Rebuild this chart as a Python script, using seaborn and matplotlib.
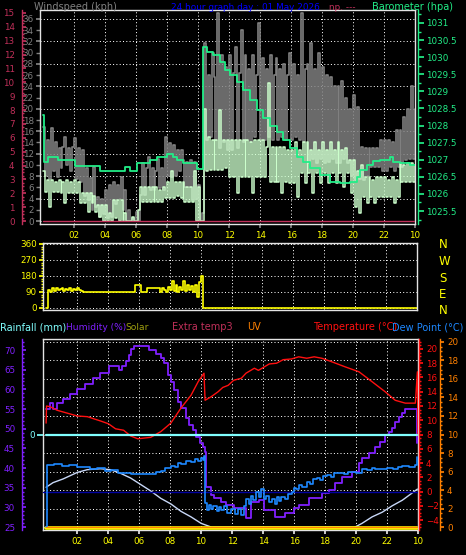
import numpy as np
import pandas as pd
import matplotlib
matplotlib.use("Agg")
import matplotlib.pyplot as plt
import seaborn as sns
from matplotlib.ticker import MultipleLocator, FixedLocator, FuncFormatter

# ---------------- data ----------------
hour_ticks = [2, 4, 6, 8, 10, 12, 14, 16, 18, 20, 22, 24]
hour_labels = ["02", "04", "06", "08", "10", "12", "14", "16", "18", "20", "22", "10"]

# wind samples every 7.5 minutes
wind_hours = np.arange(193) * 0.125
gust = [
    16.8, 8.0, 14.5, 7.5, 16.5, 9.0, 14.0, 7.8,      # 00
    13.0, 9.5, 13.2, 15.0, 10.0, 13.0, 9.0, 13.2,    # 01
    14.8, 7.5, 13.0, 7.0, 12.7, 4.5, 9.5, 3.7,       # 02
    7.7, 2.0, 9.6, 2.5, 4.3, 0.8, 4.0, 1.2,          # 03
    5.5, 0.5, 6.4, 0.8, 7.0, 3.0, 6.5, 4.0,          # 04
    7.8, 2.0, 5.5, 0.0, 2.0, 0.0, 0.5, 0.0,          # 05
    1.6, 0.0, 4.6, 10.3, 4.6, 9.4, 11.4, 5.5,        # 06
    9.4, 5.5, 9.0, 11.0, 5.8, 9.4, 5.5, 15.0,        # 07
    8.0, 13.9, 7.8, 13.5, 8.0, 12.6, 9.0, 12.6,      # 08
    10.9, 6.0, 10.5, 6.0, 10.9, 3.7, 10.5, 4.0,      # 09
    6.5, 0.0, 1.5, 31.7, 14.5, 26.0, 15.0, 30.0,     # 10
    25.7, 14.4, 37.0, 13.0, 29.6, 14.0, 27.5, 12.7,  # 11
    29.6, 12.7, 26.4, 31.0, 13.0, 26.4, 34.0, 14.0,  # 12
    29.6, 14.4, 27.0, 14.0, 29.6, 15.0, 26.0, 35.3,  # 13
    14.4, 29.0, 14.4, 27.0, 15.0, 29.6, 14.4, 26.0,  # 14
    29.0, 14.4, 27.0, 15.0, 28.0, 14.4, 26.0, 30.0,  # 15
    14.4, 28.0, 15.0, 26.0, 14.4, 37.0, 14.0, 27.0,  # 16
    28.0, 10.3, 31.7, 11.0, 27.0, 10.3, 30.0, 11.0,  # 17
    27.5, 10.3, 26.0, 10.5, 25.7, 11.0, 24.0, 10.3,  # 18
    24.0, 10.3, 25.0, 11.0, 22.0, 10.3, 20.0, 8.0,   # 19
    22.5, 7.3, 20.3, 7.5, 13.2, 7.3, 13.0, 8.0,      # 20
    13.0, 9.6, 13.0, 9.6, 13.0, 9.6, 14.4, 9.0,      # 21
    14.4, 9.0, 14.4, 9.6, 14.0, 9.0, 16.2, 9.6,      # 22
    16.2, 9.6, 18.5, 10.9, 20.0, 11.0, 24.0, 11.0,   # 23
    20.0,
]
avg_wind = [
    9.0, 5.2, 7.3, 2.5, 7.3, 5.2, 7.0, 5.2,          # 00
    7.3, 5.0, 7.0, 3.2, 7.3, 5.0, 7.0, 5.0,          # 01
    7.3, 5.0, 7.0, 3.2, 5.0, 3.2, 5.0, 1.6,          # 02
    5.0, 3.2, 4.5, 1.6, 2.9, 0.7, 2.9, 0.0,          # 03
    2.9, 0.0, 1.5, 0.0, 3.7, 0.5, 3.7, 0.0,          # 04
    3.7, 0.0, 1.5, 0.0, 0.0, 0.0, 0.8, 0.0,          # 05
    0.0, 2.0, 6.0, 3.4, 6.0, 3.4, 6.0, 3.4,          # 06
    6.0, 3.4, 6.0, 3.4, 5.5, 3.4, 6.0, 4.1,          # 07
    7.0, 4.1, 9.0, 4.1, 7.0, 4.5, 7.0, 4.1,          # 08
    7.0, 3.4, 6.0, 3.4, 6.0, 3.4, 9.0, 0.0,          # 09
    6.0, 0.0, 0.0, 20.0, 9.0, 15.0, 9.1, 14.4,       # 10
    9.1, 14.4, 9.1, 19.8, 9.1, 14.4, 9.5, 14.4,      # 11
    7.8, 14.4, 7.8, 14.4, 5.0, 14.4, 7.8, 14.4,      # 12
    7.8, 14.4, 7.8, 14.0, 5.0, 14.4, 7.8, 14.4,      # 13
    7.8, 14.4, 7.8, 13.2, 24.6, 7.0, 13.2, 7.0,      # 14
    13.2, 7.0, 13.2, 5.0, 13.2, 7.0, 12.7, 6.8,      # 15
    12.7, 6.8, 14.0, 4.3, 12.7, 8.5, 14.0, 6.8,      # 16
    14.0, 8.5, 12.7, 5.0, 14.0, 8.5, 12.7, 6.8,      # 17
    14.0, 8.5, 12.7, 6.8, 14.0, 8.5, 12.7, 6.8,      # 18
    14.0, 8.5, 12.7, 6.0, 13.0, 8.5, 10.9, 5.0,      # 19
    10.9, 2.5, 9.0, 1.4, 10.0, 4.3, 7.8, 3.2,        # 20
    7.8, 4.3, 7.3, 3.2, 7.8, 4.3, 7.8, 4.3,          # 21
    7.8, 4.3, 7.3, 4.3, 7.8, 3.2, 7.3, 4.3,          # 22
    10.3, 7.0, 10.0, 7.0, 10.3, 7.0, 10.3, 7.0,      # 23
    10.0,
]
wind_dir = [
    0, 100, 90, 110, 95, 115, 100, 105,              # 00
    110, 95, 105, 100, 115, 95, 105, 100,            # 01
    110, 100, 95, 90, 90, 90, 90, 90,                # 02
    90, 90, 90, 90, 90, 90, 90, 90,                  # 03
    90, 90, 90, 90, 90, 90, 90, 90,                  # 04
    90, 90, 90, 90, 90, 90, 130, 130,                # 05
    130, 90, 90, 90, 110, 110, 110, 110,             # 06
    110, 110, 110, 90, 110, 100, 90, 120,            # 07
    100, 150, 95, 130, 90, 120, 100, 150,            # 08
    95, 130, 100, 125, 90, 130, 60, 145,             # 09
    180, 0, 0, 0, 0, 0, 0, 0,                        # 10
] + [0] * 105                                        # 11 .. 24

rate_hours = [0.0, 24.0]
rain_rate = [0.0, 0.0]

baro_hours = [0.0, 0.03, 0.32, 0.97, 2.06, 3.68, 5.29, 5.61, 6.06, 6.9, 7.35, 8.0,
              8.39, 8.65, 9.03, 9.94, 10.32, 10.58, 10.97, 11.42, 11.74, 12.06,
              12.52, 12.9, 13.35, 13.81, 14.19, 14.65, 15.1, 15.48, 15.94, 16.39,
              16.77, 17.23, 17.87, 18.52, 19.16, 19.81, 20.26, 20.45, 20.9, 21.29,
              21.74, 22.39, 22.58, 23.03, 23.68, 24.0]
baro = [1028.3, 1026.94, 1027.08, 1027.0, 1026.82, 1026.67, 1026.8, 1026.67, 1026.9,
        1027.0, 1027.08, 1027.17, 1027.08, 1027.0, 1026.9, 1026.73, 1030.3, 1030.15,
        1030.06, 1029.86, 1029.63, 1029.48, 1029.27, 1029.04, 1028.75, 1028.46,
        1028.22, 1028.0, 1027.8, 1027.58, 1027.34, 1027.08, 1026.94, 1026.76,
        1026.56, 1026.35, 1026.32, 1026.35, 1026.5, 1026.7, 1026.85, 1026.96,
        1027.0, 1027.08, 1026.94, 1026.9, 1026.85, 1026.85]

hum_hours = [0.0, 0.26, 0.45, 0.71, 1.10, 1.56, 2.01, 2.53, 3.05, 3.51, 4.03, 4.68,
             4.87, 5.13, 5.32, 5.45, 5.65, 6.62, 7.08, 7.40, 7.60, 7.86, 8.05, 8.25,
             8.51, 8.70, 9.03, 9.22, 9.48, 9.68, 9.94, 10.13, 10.26, 10.32, 10.65,
             10.84, 11.30, 11.62, 12.14, 12.92, 13.25, 13.77, 14.09, 14.74, 15.39,
             15.97, 16.30, 16.95, 17.79, 18.25, 18.64, 19.09, 19.74, 20.19, 20.39,
             20.84, 21.23, 21.56, 21.88, 22.14, 22.34, 22.53, 22.79, 22.99, 23.18,
             23.90, 23.96]
humidity = [55.0, 56.5, 55.0, 56.5, 57.6, 58.9, 60.1, 61.4, 62.9, 64.2, 65.9, 64.9,
            65.9, 67.2, 68.7, 70.2, 71.0, 70.0, 69.0, 68.0, 66.7, 63.6, 61.9, 59.8,
            56.8, 55.2, 52.7, 50.9, 49.6, 47.9, 46.3, 45.3, 44.0, 35.1, 33.1, 32.3,
            31.3, 30.6, 29.8, 27.3, 31.3, 31.8, 29.3, 27.5, 28.5, 29.8, 30.6, 32.3,
            33.6, 34.4, 36.2, 37.7, 39.0, 41.2, 42.5, 43.8, 45.3, 46.6, 48.4, 49.1,
            50.1, 51.7, 53.0, 54.0, 55.0, 55.0, 46.3]

temp_hours = [0.0, 0.03, 0.26, 0.71, 1.36, 2.01, 2.66, 3.51, 4.03, 4.48, 5.0, 5.45,
              5.91, 6.75, 7.40, 8.05, 8.70, 9.35, 9.81, 10.19, 10.26, 10.65, 11.10,
              11.4, 11.75, 12.1, 12.60, 12.9, 13.44, 13.7, 14.09, 14.4, 14.87, 15.3,
              15.84, 16.3, 16.82, 17.3, 17.79, 18.44, 19.29, 20.19, 21.04, 21.88,
              22.53, 23.18, 23.83, 23.96, 24.0]
temperature = [9.6, 12.0, 11.9, 11.4, 11.0, 10.6, 10.5, 9.9, 9.5, 8.8, 8.6, 7.8, 7.4,
               7.6, 8.4, 9.6, 11.7, 13.5, 15.4, 16.6, 12.8, 13.3, 14.0, 14.6, 14.9,
               15.6, 15.9, 16.6, 17.3, 17.0, 17.5, 17.9, 18.0, 18.5, 18.6, 18.9, 18.7,
               18.9, 18.7, 18.2, 17.5, 16.8, 15.4, 14.0, 12.8, 12.4, 12.4, 16.8, 7.8]

dew_hours = [0.0, 0.03, 0.5, 1.0, 1.5, 2.01, 2.4, 2.86, 3.3, 3.83, 4.2, 4.61, 5.45,
             6.75, 7.1, 7.40, 7.7, 8.05, 8.3, 8.5, 8.70, 9.0, 9.35, 9.6, 9.8, 10.0,
             10.1, 10.19, 10.26, 10.4, 10.5, 10.65, 10.8, 11.0, 11.15, 11.30, 11.5,
             11.7, 11.95, 12.2, 12.4, 12.60, 12.75, 12.92, 13.1, 13.25, 13.38, 13.55,
             13.77, 13.9, 14.05, 14.22, 14.4, 14.6, 14.74, 14.9, 15.05, 15.19, 15.4,
             15.6, 15.84, 16.0, 16.15, 16.30, 16.5, 16.82, 17.0, 17.2, 17.47, 17.7,
             17.9, 18.12, 18.4, 18.6, 18.90, 19.2, 19.5, 19.74, 20.0, 20.39, 20.7,
             21.0, 21.23, 21.6, 22.01, 22.4, 22.7, 22.99, 23.4, 23.83, 23.96]
dew_point = [-5.0, 3.7, 3.8, 3.6, 3.7, 3.4, 3.5, 3.2, 3.3, 2.9, 3.0, 2.6, 2.5,
             2.5, 2.7, 2.9, 3.3, 3.6, 3.4, 4.0, 3.8, 4.3, 4.1, 4.6, 4.3, 4.7,
             4.4, 5.0, -1.6, -2.6, -1.9, -2.5, -2.0, -2.8, -2.2, -2.6, -2.0,
             -3.0, -2.4, -3.1, -2.5, -3.3, -2.0, -1.0, -1.8, -0.6, -1.2, 0.0,
             -0.7, 0.3, -1.0, -0.6, -1.5, -1.0, -1.7, -0.8, -1.3, -0.7, -1.1,
             -0.3, -0.1, 0.5, 0.3, 0.9, 0.7, 1.3, 1.0, 1.7, 1.9, 1.6,
             2.2, 2.3, 2.1, 2.6, 2.6, 2.4, 2.8, 2.7, 2.6, 3.2, 3.0,
             3.3, 3.2, 3.1, 3.3, 3.2, 3.4, 3.6, 3.5, 3.7, 4.8]

sun_hours = [0.0, 0.45, 1.10, 2.01, 2.66, 3.51, 4.16, 4.81, 5.45, 6.10, 6.75, 7.40,
             8.05, 8.70, 9.35, 10.0, 10.65, 19.94, 20.39, 21.04, 21.69, 22.34, 22.99,
             23.64, 23.96]
sun_curve = [4.3, 4.8, 5.2, 5.9, 6.2, 6.3, 6.2, 5.8, 5.3, 4.6, 3.9, 3.1, 2.5, 1.7,
             1.1, 0.4, 0.0, 0.0, 0.4, 1.1, 1.6, 2.3, 2.9, 3.7, 4.1]

flat_hours = [0.0, 23.96]
rainfall = [0.0, 0.0]
solar = [0.0, 0.0]
uv = [0.0, 0.0]

# ---------------- colours ----------------
FRAME = "#e4e4e4"
GRAY = "#808080"
PALE = "#ccffcc"
GREEN = "#22ee88"
CRIMSON = "#c0305a"
YELLOW = "#ffff00"
PURPLE = "#8020ff"
CYAN = "#80ffff"
OLIVE = "#a0a010"
ORANGE = "#ff8000"
RED = "#ff1010"
DEWBLUE = "#1e88ff"
NAVY = "#0000a0"
SUN = "#c8d8f8"

sns.set_theme(style="ticks")
plt.rcParams["font.family"] = ["DejaVu Sans"]
plt.rcParams["figure.facecolor"] = "black"
plt.rcParams["axes.facecolor"] = "black"

W, H = 466, 555
PT = 0.72  # points per pixel at 100 dpi
DOT = (0, (1, 2.3))
fig = plt.figure(figsize=(W / 100, H / 100), dpi=100, facecolor="black")


def panel(l, t, r, b):
    ax = fig.add_axes([l / W, 1 - b / H, (r - l) / W, (b - t) / H])
    ax.set_facecolor("black")
    for s in ax.spines.values():
        s.set_color(FRAME)
        s.set_linewidth(1.0)
    ax.set_xlim(-0.2, 24.0)
    ax.set_axisbelow(True)
    return ax


def twin(ax, side, color, outward_px, ylim):
    tw = ax.twinx()
    for s in tw.spines.values():
        s.set_visible(False)
    if side == "left":
        tw.yaxis.set_ticks_position("left")
        tw.yaxis.set_label_position("left")
    if side is not None:
        sp = tw.spines[side]
        sp.set_visible(True)
        sp.set_color(color)
        sp.set_linewidth(1.0)
        sp.set_position(("outward", outward_px * PT))
        tw.tick_params(axis="y", which="both", colors=color, labelsize=6.3)
    else:
        tw.set_yticks([])
    tw.set_ylim(*ylim)
    return tw


def line(ax, x, y, color, lw=1.0, steps=None, z=2):
    kw = {}
    if steps:
        kw["drawstyle"] = steps
    sns.lineplot(x=x, y=y, ax=ax, color=color, linewidth=lw, estimator=None,
                 zorder=z, **kw)
    ax.set_xlabel("")
    ax.set_ylabel("")


def ftext(x, y, s, color, size=7.0, ha="left"):
    fig.text(x / W, 1 - y / H, s, color=color, fontsize=size, ha=ha, va="center")


# ================= top panel: wind speed + barometer =================
ax_w = panel(40, 10, 415, 224)
line(ax_w, wind_hours, gust, GRAY, lw=1.2, steps="steps-post")
line(ax_w, wind_hours, avg_wind, PALE, lw=1.1, steps="steps-post")
ax_w.set_xlim(-0.2, 24.0)
ax_w.set_ylim(-0.53, 37.6)
ax_w.yaxis.set_major_locator(MultipleLocator(4))
ax_w.yaxis.set_minor_locator(FixedLocator(list(range(2, 37, 4))))
ax_w.yaxis.set_minor_formatter(FuncFormatter(lambda v, p: f"{v:g}"))
ax_w.tick_params(axis="y", which="both", colors=GRAY, labelsize=6.3, length=3, pad=1.5)
ax_w.set_xticks(hour_ticks, hour_labels)
ax_w.tick_params(axis="x", colors=GRAY, labelcolor=YELLOW, labelsize=6.3, length=3, pad=2)
ax_w.grid(True, which="major", color="white", linestyle=DOT, linewidth=0.72)

ax_c = twin(ax_w, "left", CRIMSON, 18.5, (-0.216, 15.21))
line(ax_c, rate_hours, rain_rate, CRIMSON, lw=1.0)
ax_c.set_ylim(-0.216, 15.21)
ax_c.yaxis.set_major_locator(MultipleLocator(1))
ax_c.yaxis.set_minor_locator(MultipleLocator(0.25))
ax_c.tick_params(axis="y", which="major", direction="in", length=3, pad=5)
ax_c.tick_params(axis="y", which="minor", direction="in", length=1.5)

ax_b = twin(ax_w, "right", GREEN, 3, (1025.12, 1031.38))
line(ax_b, baro_hours, baro, GREEN, lw=1.3, steps="steps-post")
ax_b.set_ylim(1025.12, 1031.38)
ax_b.yaxis.set_major_locator(MultipleLocator(0.5))
ax_b.yaxis.set_minor_locator(MultipleLocator(0.25))
ax_b.yaxis.set_major_formatter(FuncFormatter(lambda v, p: f"{v:g}"))
ax_b.tick_params(axis="y", which="major", direction="out", length=4, pad=2)
ax_b.tick_params(axis="y", which="minor", direction="out", length=2)

ftext(34, 7, "Windspeed (kph)", GRAY)
ftext(171, 7, "24 hour graph day : 01 May 2026", "#0000ff", size=6.4)
ftext(329, 7, "np. ---", CRIMSON, size=6.4)
ftext(372, 7, "Barometer (hpa)", GREEN)

# ================= middle panel: wind direction =================
ax_d = panel(43, 243, 417, 310)
line(ax_d, wind_hours, wind_dir, YELLOW, lw=1.2, steps="steps-post")
ax_d.set_xlim(-0.2, 24.0)
ax_d.set_ylim(-11.25, 365.6)
ax_d.set_yticks([0, 90, 180, 270, 360])
ax_d.yaxis.set_minor_locator(MultipleLocator(15))
ax_d.tick_params(axis="y", which="major", colors=YELLOW, labelsize=6.3, length=3, pad=1.5)
ax_d.tick_params(axis="y", which="minor", colors=YELLOW, length=1.5)
ax_d.set_xticks(hour_ticks, [""] * len(hour_ticks))
ax_d.tick_params(axis="x", length=0)
ax_d.grid(True, which="major", color="white", linestyle=DOT, linewidth=0.72)
for lab, y in zip(["N", "W", "S", "E", "N"], [245, 261, 279, 295, 310]):
    ftext(439, y, lab, YELLOW, size=8.5)

# ================= bottom panel: temperature / humidity etc =================
ax_u = panel(43, 339, 418, 530)
line(ax_u, sun_hours, sun_curve, SUN, lw=1.0)
ax_u.set_xlim(-0.2, 24.0)
ax_u.set_ylim(-0.32, 20.32)
ax_u.yaxis.set_major_locator(MultipleLocator(2))
ax_u.tick_params(axis="y", length=0, labelleft=False)
ax_u.set_xticks(hour_ticks, hour_labels)
ax_u.tick_params(axis="x", colors=FRAME, labelcolor=YELLOW, labelsize=6.3, length=3, pad=2)
ax_u.grid(True, which="major", color="white", linestyle=DOT, linewidth=0.72)

ax_s = twin(ax_u, None, None, 0, (-0.1, 10))
line(ax_s, flat_hours, solar, YELLOW, lw=2.6)
ax_s.set_ylim(-0.1, 10)

ax_h = twin(ax_u, "left", PURPLE, 21, (24.24, 72.8))
line(ax_h, hum_hours, humidity, PURPLE, lw=1.3, steps="steps-post")
ax_h.set_ylim(24.24, 72.8)
ax_h.yaxis.set_major_locator(MultipleLocator(5))
ax_h.yaxis.set_minor_locator(MultipleLocator(1))
ax_h.tick_params(axis="y", which="major", direction="in", length=3, pad=5)
ax_h.tick_params(axis="y", which="minor", direction="in", length=1.5)

ax_t = twin(ax_u, "right", RED, 1, (-5.4, 21.4))
ax_t.axhline(0, color=NAVY, linewidth=1.0, zorder=1)
line(ax_t, dew_hours, dew_point, DEWBLUE, lw=1.2, steps="steps-post")
line(ax_t, temp_hours, temperature, RED, lw=1.0)
ax_t.set_ylim(-5.4, 21.4)
ax_t.yaxis.set_major_locator(MultipleLocator(2))
ax_t.yaxis.set_minor_locator(MultipleLocator(0.5))
ax_t.tick_params(axis="y", which="major", direction="out", length=3, pad=2)
ax_t.tick_params(axis="y", which="minor", direction="out", length=1.5)

ax_r = twin(ax_u, "left", CYAN, 0, (-1, 1))
ax_r.spines["left"].set_visible(False)
line(ax_r, flat_hours, rainfall, CYAN, lw=1.6)
ax_r.set_ylim(-1, 1)
ax_r.set_yticks([0])
ax_r.tick_params(axis="y", direction="out", length=4, pad=2)

ax_o = twin(ax_u, "right", ORANGE, 22, (-0.32, 20.32))
line(ax_o, flat_hours, uv, ORANGE, lw=1.0)
ax_o.set_ylim(-0.32, 20.32)
ax_o.yaxis.set_major_locator(MultipleLocator(2))
ax_o.yaxis.set_minor_locator(MultipleLocator(0.5))
ax_o.tick_params(axis="y", which="major", direction="out", length=3, pad=2)
ax_o.tick_params(axis="y", which="minor", direction="out", length=1.5)

ftext(0, 327, "Rainfall (mm)", CYAN)
ftext(66, 327, "Humidity (%)", PURPLE, size=6.6)
ftext(125, 327, "Solar", OLIVE, size=6.6)
ftext(172, 327, "Extra temp3", CRIMSON)
ftext(247, 327, "UV", ORANGE)
ftext(313, 327, "Temperature (°C)", RED)
ftext(392, 327, "Dew Point (°C)", DEWBLUE)

fig.savefig("out.png", dpi=100, facecolor="black")
